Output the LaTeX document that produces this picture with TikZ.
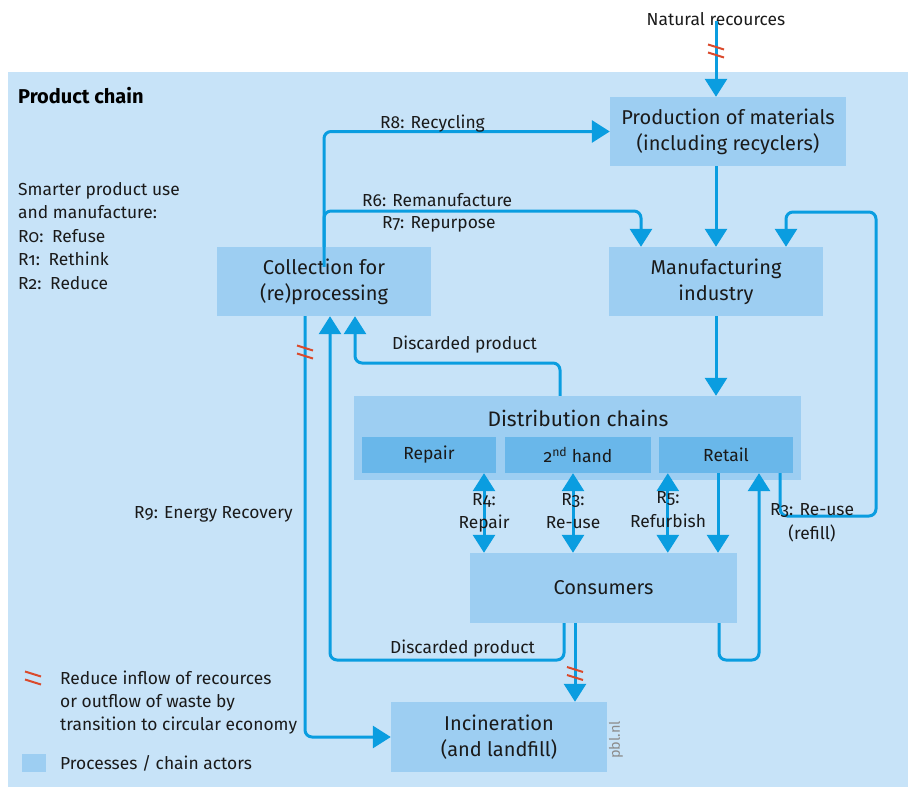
\documentclass[tikz,border=0pt]{standalone}
\usepackage{fontspec}
\setmainfont{Fira Sans}[Numbers=OldStyle]
\usetikzlibrary{arrows.meta,calc}
\definecolor{bgblue}{HTML}{C7E3F8}
\definecolor{boxblue}{HTML}{9DCEF2}
\definecolor{innerblue}{HTML}{69B7EA}
\definecolor{flow}{HTML}{0A9DE0}
\definecolor{hatchred}{HTML}{DA4A2C}
\definecolor{txt}{HTML}{1A1A1A}
\begin{document}
\begin{tikzpicture}[x=1pt,y=-1pt,
  box/.style={fill=boxblue, draw=none, inner sep=0pt, align=center, text=txt,
    font=\fontsize{20}{26}\selectfont},
  inbox/.style={fill=innerblue, draw=none, inner sep=0pt, text=txt,
    minimum height=36pt, font=\fontsize{17.5}{20}\selectfont},
  lbl/.style={font=\fontsize{17.4}{23.5}\selectfont, text=txt, inner sep=0pt},
  arr/.style={draw=flow, line width=3pt, rounded corners=7pt,
    -{Triangle[width=22pt,length=18pt]}},
  darr/.style={draw=flow, line width=3pt,
    {Triangle[width=22pt,length=18pt]}-{Triangle[width=22pt,length=18pt]}},
  redhatch/.pic={\draw[hatchred, line width=2pt] (-8,-6.5)--(8,-1.5) (-8,1.5)--(8,6.5);}
]
\useasboundingbox (0,0) rectangle (908,787);
\fill[bgblue] (8,72) rectangle (908,787);

% boxes
\node[box, minimum width=236pt, minimum height=69pt] (prod) at (728,131.5) {Production of materials\\(including recyclers)};
\node[box, minimum width=214pt, minimum height=69pt] (manu) at (716,281.5) {Manufacturing\\industry};
\node[box, minimum width=214pt, minimum height=69pt] (coll) at (324,281.5) {Collection for\\(re)processing};
\node[box, minimum width=447pt, minimum height=84pt] (dist) at (577.5,438) {};
\node[font=\fontsize{21}{24}\selectfont, text=txt, inner sep=0pt] (distt) at (578,418) {Distribution chains};
\node[inbox, minimum width=134pt] (repair) at (429,455) {Repair};
\node[inbox, minimum width=146pt] (second) at (578,455) {2\textsuperscript{nd} hand};
\node[inbox, minimum width=134pt] (retail) at (726,455) {Retail};
\node[box, minimum width=267pt, minimum height=70pt] (cons) at (603.5,588) {Consumers};
\node[box, minimum width=216pt, minimum height=70pt] (incin) at (499,737) {Incineration\\(and landfill)};
\node[rotate=90, text=black!45, font=\fontsize{14.5}{16}\selectfont, inner sep=0pt] (pbl) at (616,740) {pbl.nl};

% coordinates for bends
\coordinate (rfA) at (876,516);
\coordinate (rfB) at (786,212);
\coordinate (r6) at (641,211);
\coordinate (dA) at (330,660);
\coordinate (dB) at (355,363);
\coordinate (lp) at (759,660);

% natural resources
\node[lbl, anchor=base] (nat) at (716,25) {Natural recources};
\draw[arr] ([yshift=4pt]nat.south) -- (nat.south |- prod.north);
\pic at (716,51) {redhatch};

% main chain
\draw[arr] (manu.north |- prod.south) -- (manu.north);
\draw[arr] (manu.south) -- (manu.south |- dist.north);

% R8 and R6/R7
\draw[arr] (coll.north) |- (prod.west);
\draw[arr] ([yshift=-20pt]coll.north) |- (r6) -- (r6 |- manu.north);

% R3 refill loop
\draw[arr] ([xshift=-13pt]retail.south east) |- (rfA) |- (rfB) -- (rfB |- manu.north);

% R9 energy recovery
\draw[arr] ([xshift=-19pt]coll.south) |- (incin.west);
\pic at (305,352) {redhatch};

% discarded products
\draw[arr] ([xshift=-17.5pt]dist.north) |- (dB) -- (dB |- coll.south);
\draw[arr] ([xshift=-39.5pt]cons.south) |- (dA) -- (dA |- coll.south);

% consumers to incineration
\draw[arr] ([xshift=-28.5pt]cons.south) -- ([xshift=-28.5pt]cons.south |- incin.north);
\pic at (575,673.5) {redhatch};

% double arrows
\draw[darr] ([xshift=55pt]repair.south) -- ([xshift=55pt]repair.south |- cons.north);
\draw[darr] ([xshift=-5pt]second.south) -- ([xshift=-5pt]second.south |- cons.north);
\draw[darr] ([xshift=9pt]retail.south west) -- ([xshift=9pt]retail.south west |- cons.north);

% retail <-> consumers
\draw[arr] ([xshift=-8pt]retail.south) -- ([xshift=-8pt]retail.south |- cons.north);
\draw[arr] ([xshift=115.5pt]cons.south) |- (lp) -- (lp |- retail.south);

% labels
\node[font=\bfseries\fontsize{20}{24}\selectfont, text=black, anchor=base west, inner sep=0pt] (pc) at (18,103) {Product chain};
\node[lbl, anchor=base west] (l1) at (18,195) {Smarter product use};
\node[lbl, anchor=base west] (l2) at (18,218) {and manufacture:};
\node[lbl, anchor=base west] (l3) at (18,242) {R0:\enspace Refuse};
\node[lbl, anchor=base west] (l4) at (18,265) {R1:\enspace Rethink};
\node[lbl, anchor=base west] (l5) at (18,289) {R2:\enspace Reduce};

\node[lbl, anchor=base west] (r8l) at (380,128) {R8: Recycling};
\node[lbl, anchor=base west] (r6l) at (362,206) {R6: Remanufacture};
\node[lbl, anchor=base west] (r7l) at (382,228) {R7: Repurpose};
\node[lbl, anchor=base west] (disc1) at (392,349) {Discarded product};
\node[lbl, anchor=base west] (disc2) at (390,653) {Discarded product};
\node[lbl, anchor=base west] (r9l) at (134,518) {R9: Energy Recovery};

\node[lbl, anchor=base] (r4a) at (484,505) {R4:};
\node[lbl, anchor=base] (r4b) at (484,528) {Repair};
\node[lbl, anchor=base] (r3a) at (573,505) {R3:};
\node[lbl, anchor=base] (r3b) at (573,528) {Re-use};
\node[lbl, anchor=base] (r5a) at (668,503) {R5:};
\node[lbl, anchor=base] (r5b) at (668,527) {Refurbish};
\node[lbl, anchor=base west] (r3c) at (770,515) {R3: Re-use};
\node[lbl, anchor=base] (r3d) at (812,539) {(refill)};

% legend
\pic at (33,678) {redhatch};
\node[lbl, anchor=base west] (lg1) at (60,684) {Reduce inflow of recources};
\node[lbl, anchor=base west] (lg2) at (60,707) {or outflow of waste by};
\node[lbl, anchor=base west] (lg3) at (60,730) {transition to circular economy};
\node[fill=boxblue, minimum width=24pt, minimum height=18pt, inner sep=0pt] (legbox) at (34,763) {};
\node[lbl, anchor=base west] (lg4) at (60,769) {Processes / chain actors};
\end{tikzpicture}
\end{document}
